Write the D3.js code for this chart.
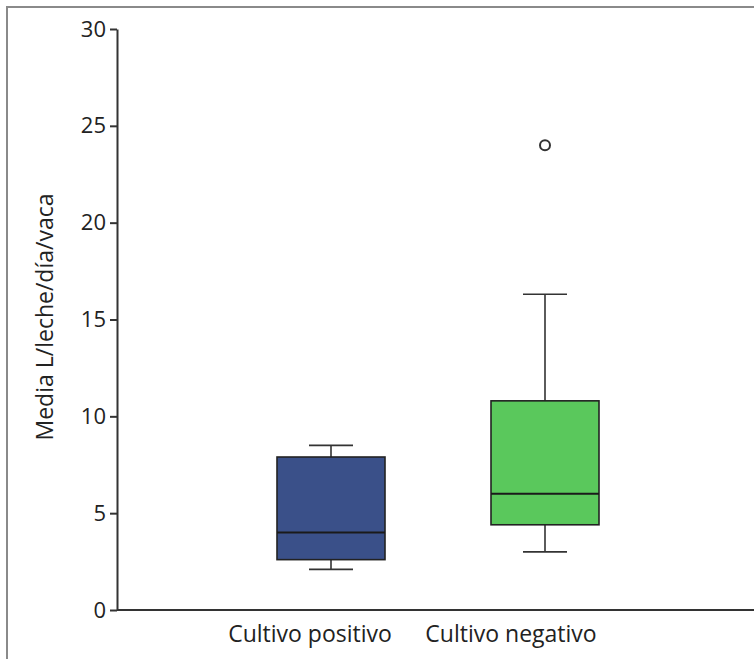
<!DOCTYPE html>
<html>
<head>
<meta charset="utf-8">
<script src="https://cdn.jsdelivr.net/npm/d3@7"></script>
<style>
  body { margin: 0; background: #fff; }
  svg { display: block; font-family: "Open Sans", "Noto Sans", sans-serif; }
</style>
</head>
<body>
<script>
var width = 754,
    height = 659;

// data
var categories = ["Cultivo positivo", "Cultivo negativo"];
var whiskerLow = [2.1, 3.0];
var q1 = [2.6, 4.4];
var median = [4.0, 6.0];
var q3 = [7.9, 10.8];
var whiskerHigh = [8.5, 16.3];
var outliers = [[], [24.0]];
var colors = ["#3a5089", "#5ac85c"];
var yTicks = [0, 5, 10, 15, 20, 25, 30];

var boxes = categories.map(function(c, i) {
  return {
    name: c,
    lo: whiskerLow[i], q1: q1[i], med: median[i], q3: q3[i], hi: whiskerHigh[i],
    out: outliers[i], color: colors[i]
  };
});

var svg = d3.select("body")
  .append("svg")
  .attr("width", width)
  .attr("height", height);

// outer frame
svg.append("rect")
  .attr("x", 7).attr("y", 7)
  .attr("width", width + 10).attr("height", height + 10)
  .attr("fill", "none")
  .attr("stroke", "#8a8a8a")
  .attr("stroke-width", 2);

var y = d3.scaleLinear().domain([0, 30]).range([610, 29]);
var x = d3.scalePoint().domain(categories).range([331, 545]);
var xLabel = d3.scalePoint().domain(categories).range([310, 511]);

var boxW = 108, capW = 44;

var yAxis = svg.append("g")
  .attr("transform", "translate(117,0)")
  .call(d3.axisLeft(y).tickValues(yTicks).tickSize(7).tickPadding(4).tickSizeOuter(0));
yAxis.attr("font-size", 22).attr("font-family", null);
yAxis.selectAll("path, line").attr("stroke", "#333").attr("stroke-width", 2);
yAxis.selectAll("text").attr("fill", "#222");

// x axis line
svg.append("line")
  .attr("x1", 117).attr("x2", width)
  .attr("y1", y(0)).attr("y2", y(0))
  .attr("stroke", "#333").attr("stroke-width", 2);

svg.selectAll(".xlabel")
  .data(categories)
  .enter()
  .append("text")
  .attr("class", "xlabel")
  .attr("x", function(d) { return xLabel(d); })
  .attr("y", 642)
  .attr("text-anchor", "middle")
  .attr("font-size", 23)
  .attr("fill", "#222")
  .text(function(d) { return d; });

svg.append("text")
  .attr("transform", "translate(53,317) rotate(-90)")
  .attr("text-anchor", "middle")
  .attr("font-size", 23)
  .attr("fill", "#222")
  .text("Media L/leche/día/vaca");

var g = svg.selectAll(".box")
  .data(boxes)
  .enter()
  .append("g")
  .attr("class", "box");

// whiskers
g.append("line")
  .attr("x1", function(d) { return x(d.name); })
  .attr("x2", function(d) { return x(d.name); })
  .attr("y1", function(d) { return y(d.hi); })
  .attr("y2", function(d) { return y(d.lo); })
  .attr("stroke", "#333").attr("stroke-width", 1.6);

g.selectAll(".cap")
  .data(function(d) { return [d, d].map(function(b, k) { return { name: b.name, v: k ? b.hi : b.lo }; }); })
  .enter()
  .append("line")
  .attr("x1", function(d) { return x(d.name) - capW / 2; })
  .attr("x2", function(d) { return x(d.name) + capW / 2; })
  .attr("y1", function(d) { return y(d.v); })
  .attr("y2", function(d) { return y(d.v); })
  .attr("stroke", "#333").attr("stroke-width", 1.6);

g.append("rect")
  .attr("x", function(d) { return x(d.name) - boxW / 2; })
  .attr("y", function(d) { return y(d.q3); })
  .attr("width", boxW)
  .attr("height", function(d) { return y(d.q1) - y(d.q3); })
  .attr("fill", function(d) { return d.color; })
  .attr("stroke", "#222").attr("stroke-width", 1.6);

g.append("line")
  .attr("x1", function(d) { return x(d.name) - boxW / 2; })
  .attr("x2", function(d) { return x(d.name) + boxW / 2; })
  .attr("y1", function(d) { return y(d.med); })
  .attr("y2", function(d) { return y(d.med); })
  .attr("stroke", "#1a1a1a").attr("stroke-width", 2);

g.selectAll(".outlier")
  .data(function(d) { return d.out.map(function(v) { return { name: d.name, v: v }; }); })
  .enter()
  .append("circle")
  .attr("class", "outlier")
  .attr("cx", function(d) { return x(d.name); })
  .attr("cy", function(d) { return y(d.v); })
  .attr("r", 5)
  .attr("fill", "none")
  .attr("stroke", "#333").attr("stroke-width", 2);
</script>
</body>
</html>
